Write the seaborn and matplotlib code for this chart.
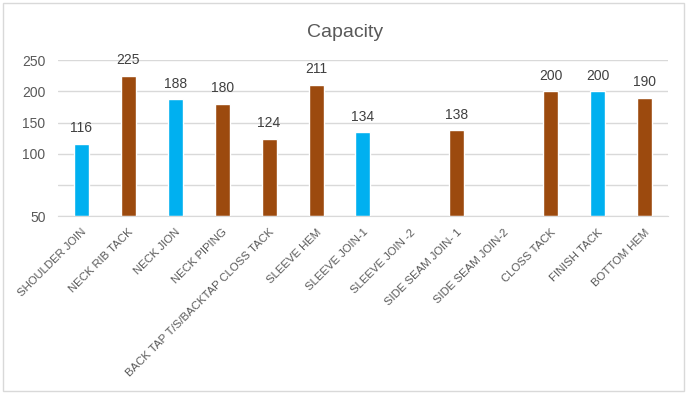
import numpy as np
import pandas as pd
import matplotlib
matplotlib.use('Agg')
import matplotlib.pyplot as plt
import seaborn as sns
from matplotlib.patches import Rectangle

# Dati
operations = ['SHOULDER JOIN', 'NECK RIB TACK', 'NECK JION', 'NECK PIPING',
              'BACK TAP T/S/BACKTAP CLOSS TACK', 'SLEEVE HEM', 'SLEEVE JOIN-1',
              'SLEEVE JOIN -2', 'SIDE SEAM JOIN- 1', 'SIDE SEAM JOIN-2',
              'CLOSS TACK', 'FINISH TACK', 'BOTTOM HEM']
capacity = [116, 225, 188, 180, 124, 211, 134, np.nan, 138, np.nan, 200, 200, 190]
group = ['blue', 'brown', 'blue', 'brown', 'brown', 'brown', 'blue',
         'brown', 'brown', 'brown', 'brown', 'blue', 'brown']
y_ticks = [0, 50, 100, 150, 200, 250]
y_tick_labels = ['50', '', '100', '150', '200', '250']

palette = {'blue': '#00B0F0', 'brown': '#9C4A0E'}

df = pd.DataFrame({'Operation': operations, 'Capacity': capacity, 'Group': group})

sns.set_style('white')
plt.rcParams['font.family'] = ['Liberation Sans', 'DejaVu Sans']

fig = plt.figure(figsize=(6.9, 3.96), dpi=100)
ax = fig.add_axes([0.084, 0.4545, 0.884, 0.3935])

sns.barplot(data=df, x='Operation', y='Capacity', hue='Group', palette=palette,
            dodge=False, width=0.32, saturation=1, legend=False, ax=ax)

for c in ax.containers:
    labels = ['' if np.isnan(v) else f'{v:.0f}' for v in c.datavalues]
    ax.bar_label(c, labels=labels, padding=6, fontsize=10, color='#404040')

ax.set_ylim(0, 250)
ax.set_yticks(y_ticks)
ax.set_yticklabels(y_tick_labels, fontsize=10, color='#595959')
ax.set_xlim(-0.5, len(operations) - 0.5)
ax.grid(axis='y', color='#D9D9D9', linewidth=1)
ax.set_axisbelow(True)
ax.tick_params(axis='both', length=0)
ax.tick_params(axis='y', pad=9)
ax.tick_params(axis='x', pad=8)
ax.set_xticks(range(len(operations)))
ax.set_xticklabels(operations, rotation=45, ha='right', rotation_mode='anchor',
                   fontsize=8.2, color='#595959')
ax.set_xlabel('')
ax.set_ylabel('')
for s in ['top', 'right', 'left']:
    ax.spines[s].set_visible(False)
ax.spines['bottom'].set_color('#D9D9D9')

fig.suptitle('Capacity', x=0.5, y=0.94, fontsize=14, color='#595959')

# Bordo del grafico
fig.patches.append(Rectangle((0.005, 0.012), 0.987, 0.98, transform=fig.transFigure,
                             fill=False, edgecolor='#D9D9D9', linewidth=1))

fig.savefig('out.png', dpi=100)
